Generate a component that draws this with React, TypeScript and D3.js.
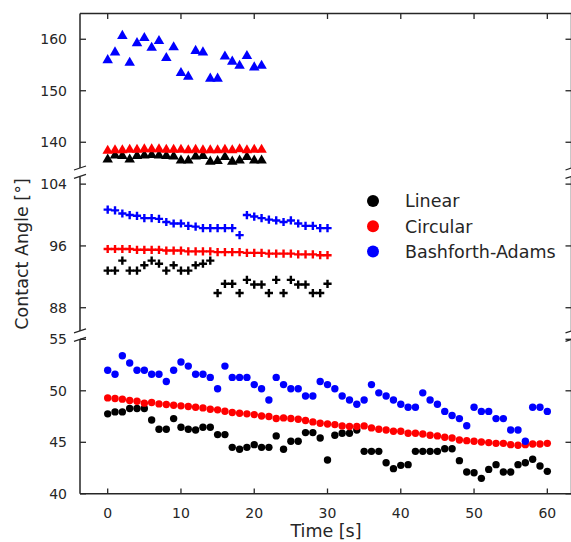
import React from 'react';
import * as d3 from 'd3';

// time axis, one reading per second
const timeTop = d3.range(0, 22);   // triangles, 0..21 s
const timeMid = d3.range(0, 31);   // plus markers, 0..30 s
const timeBot = d3.range(0, 61);   // circles, 0..60 s

// top panel (triangles)
const topLinear = [136.8, 137.6, 137.5, 136.8, 137.5, 137.6, 137.7, 137.6, 137.5, 137.4, 136.6, 136.6, 137.4, 137.5, 136.4, 136.5, 137.3, 136.4, 136.6, 137.3, 136.6, 136.6];
const topCircular = [138.5, 138.6, 138.6, 138.7, 138.7, 138.8, 138.8, 138.8, 138.7, 138.7, 138.7, 138.6, 138.7, 138.6, 138.6, 138.6, 138.7, 138.6, 138.8, 138.6, 138.7, 138.7];
const topBA = [156.1, 157.6, 160.8, 155.6, 159.4, 160.4, 158.5, 159.8, 156.5, 158.6, 153.6, 152.9, 157.9, 157.6, 152.5, 152.5, 156.8, 155.8, 155.0, 156.9, 154.7, 155.0];

// middle panel (plus)
const midLinear = [92.8, 92.8, 94.1, 92.8, 92.8, 93.5, 94.1, 93.7, 92.8, 93.5, 92.8, 92.8, 93.5, 93.7, 94.1, 89.9, 91.1, 91.1, 89.9, 91.6, 91.0, 91.0, 89.9, 91.6, 89.9, 91.6, 91.0, 91.0, 89.9, 89.9, 91.1];
const midCircular = [95.6, 95.6, 95.6, 95.6, 95.5, 95.5, 95.5, 95.5, 95.4, 95.4, 95.4, 95.3, 95.3, 95.3, 95.3, 95.2, 95.2, 95.2, 95.2, 95.1, 95.1, 95.1, 95.0, 95.0, 95.0, 95.0, 94.9, 94.9, 94.9, 94.8, 94.8];
const midBA = [100.7, 100.6, 100.2, 100.0, 99.9, 99.6, 99.6, 99.5, 99.1, 98.9, 98.9, 98.6, 98.5, 98.3, 98.3, 98.3, 98.3, 98.3, 97.4, 100.0, 99.8, 99.6, 99.4, 99.3, 99.1, 99.3, 98.9, 98.6, 98.6, 98.3, 98.3];

// bottom panel (circles)
const botLinear = [47.76, 47.95, 47.95, 48.28, 48.28, 48.28, 47.17, 46.27, 46.27, 47.3, 46.46, 46.27, 46.2, 46.46, 46.46, 45.75, 45.75, 44.51, 44.32, 44.51, 44.77, 44.51, 44.51, 45.62, 44.32, 45.1, 45.1, 45.94, 45.94, 45.42,
  43.28, 45.68, 45.88, 45.88, 46.2, 44.12, 44.12, 44.12, 43.02, 42.44, 42.76, 42.83, 44.12, 44.12, 44.12, 44.12, 44.38, 44.38, 43.22, 42.11, 42.05, 41.5, 42.37, 42.83, 42.11, 42.11, 42.83, 43.02, 43.35, 42.7, 42.18];
const botCircular = [49.31, 49.25, 49.19, 49.06, 48.99, 48.8, 48.86, 48.73, 48.67, 48.6, 48.54, 48.47, 48.41, 48.34, 48.21, 48.15, 48.02, 47.89, 47.82, 47.76, 47.69, 47.56, 47.5, 47.31, 47.37, 47.31, 47.24, 47.11, 46.98, 46.85,
  46.78, 46.72, 46.59, 46.53, 46.53, 46.59, 46.4, 46.27, 46.2, 46.07, 46.07, 45.88, 45.88, 45.81, 45.68, 45.62, 45.49, 45.42, 45.23, 45.16, 45.1, 45.03, 44.97, 44.9, 44.9, 44.77, 44.71, 44.77, 44.84, 44.84, 44.9];
const botBA = [52.0, 51.6, 53.4, 52.7, 52.0, 52.0, 51.6, 51.6, 50.9, 52.0, 52.8, 52.4, 51.6, 51.6, 51.3, 50.2, 52.4, 51.3, 51.3, 51.3, 50.6, 50.2, 49.1, 51.3, 50.6, 50.2, 50.2, 49.5, 49.5, 50.9,
  50.6, 50.2, 49.5, 49.1, 48.7, 49.1, 50.6, 49.8, 49.5, 49.1, 48.7, 48.4, 48.4, 49.8, 49.1, 48.7, 48.0, 47.6, 47.3, 46.6, 48.4, 48.0, 48.0, 47.3, 47.3, 46.2, 46.2, 45.1, 48.4, 48.4, 48.0];

const xTicks = [0, 10, 20, 30, 40, 50, 60];
const topTicks = [140, 150, 160];
const midTicks = [88, 96, 104];
const botTicks = [40, 45, 50, 55];

const seriesNames = ['Linear', 'Circular', 'Bashforth-Adams'];
const colors = ['#000000', '#ff0000', '#0000ff'];

const ink = '#262626';
const font = 'DejaVu Sans, sans-serif';

const x = d3.scaleLinear().domain([-3.78, 63.3]).range([80, 571.5]);

// three stacked panels of a broken y axis
const panels = [
  { y: d3.scaleLinear().domain([135, 165]).range([168, 13.5]), ticks: topTicks, kind: 'tri', t: timeTop, series: [topLinear, topCircular, topBA] },
  { y: d3.scaleLinear().domain([85, 105]).range([330.9, 176.4]), ticks: midTicks, kind: 'plus', t: timeMid, series: [midLinear, midCircular, midBA] },
  { y: d3.scaleLinear().domain([40, 55]).range([493.8, 339.3]), ticks: botTicks, kind: 'dot', t: timeBot, series: [botLinear, botCircular, botBA] },
];

const triPath = d3.symbol(d3.symbolTriangle, 48)() as string;

function Marker({ kind, cx, cy, color }: { kind: string; cx: number; cy: number; color: string }) {
  if (kind === 'tri') return <path d={triPath} transform={`translate(${cx},${cy + 0.8})`} fill={color} />;
  if (kind === 'plus') {
    const h = 4.1;
    return <path d={`M${cx - h},${cy}H${cx + h}M${cx},${cy - h}V${cy + h}`} stroke={color} strokeWidth={2.4} fill="none" />;
  }
  return <circle cx={cx} cy={cy} r={3.7} fill={color} />;
}

export default function App() {
  const left = x.range()[0];
  const right = x.range()[1];
  return (
    <svg width={571} height={542} style={{ position: 'absolute', left: 0, top: 0, background: '#fff' }}>
      {panels.map((p, pi) => {
        const [yb, yt] = p.y.range();
        return (
          <g key={pi}>
            {/* data: black first, then red, then blue on top */}
            {p.series.map((vals, si) =>
              vals.map((v, i) => <Marker key={si + '-' + i} kind={p.kind} cx={x(p.t[i])} cy={p.y(v)} color={colors[si]} />)
            )}
            {/* spines */}
            <line x1={left} x2={left} y1={yt} y2={yb} stroke={ink} strokeWidth={1.5} />
            <line x1={right} x2={right} y1={yt} y2={yb} stroke={ink} strokeWidth={1.5} />
            {pi === 0 && <line x1={left} x2={right} y1={yt} y2={yt} stroke={ink} strokeWidth={1.5} />}
            {pi === 2 && <line x1={left} x2={right} y1={yb} y2={yb} stroke={ink} strokeWidth={1.5} />}
            {/* y ticks, inward */}
            {p.ticks.map(t => (
              <g key={t}>
                <line x1={left} x2={left + 6} y1={p.y(t)} y2={p.y(t)} stroke={ink} strokeWidth={1.3} />
                <line x1={right} x2={right - 6} y1={p.y(t)} y2={p.y(t)} stroke={ink} strokeWidth={1.3} />
                <text x={67} y={p.y(t)} dy="0.36em" textAnchor="end" fontSize={14} fontFamily={font} fill={ink}>{t}</text>
              </g>
            ))}
            {/* break marks */}
            {pi > 0 && [left, right].map(sx => (
              <line key={'bt' + sx} x1={sx - 6} y1={yt + 2} x2={sx + 6} y2={yt - 2} stroke={ink} strokeWidth={1.3} />
            ))}
            {pi < 2 && [left, right].map(sx => (
              <line key={'bb' + sx} x1={sx - 6} y1={yb + 2} x2={sx + 6} y2={yb - 2} stroke={ink} strokeWidth={1.3} />
            ))}
          </g>
        );
      })}

      {/* x ticks on top and bottom spines */}
      {xTicks.map(t => (
        <g key={t}>
          <line x1={x(t)} x2={x(t)} y1={13.5} y2={19} stroke={ink} strokeWidth={1.3} />
          <line x1={x(t)} x2={x(t)} y1={493.8} y2={488.5} stroke={ink} strokeWidth={1.3} />
          <text x={x(t)} y={518} textAnchor="middle" fontSize={14} fontFamily={font} fill={ink}>{t}</text>
        </g>
      ))}

      <text x={326} y={537} textAnchor="middle" fontSize={17.5} fontFamily={font} fill={ink}>Time [s]</text>
      <text transform="translate(28,254) rotate(-90)" textAnchor="middle" fontSize={17.5} fontFamily={font} fill={ink}>Contact Angle [°]</text>

      {/* legend */}
      {seriesNames.map((name, i) => (
        <g key={name} transform={`translate(373,${201 + i * 25.3})`}>
          <circle r={6} fill={colors[i]} />
          <text x={32} dy="0.36em" fontSize={17.5} fontFamily={font} fill={ink}>{name}</text>
        </g>
      ))}
    </svg>
  );
}
